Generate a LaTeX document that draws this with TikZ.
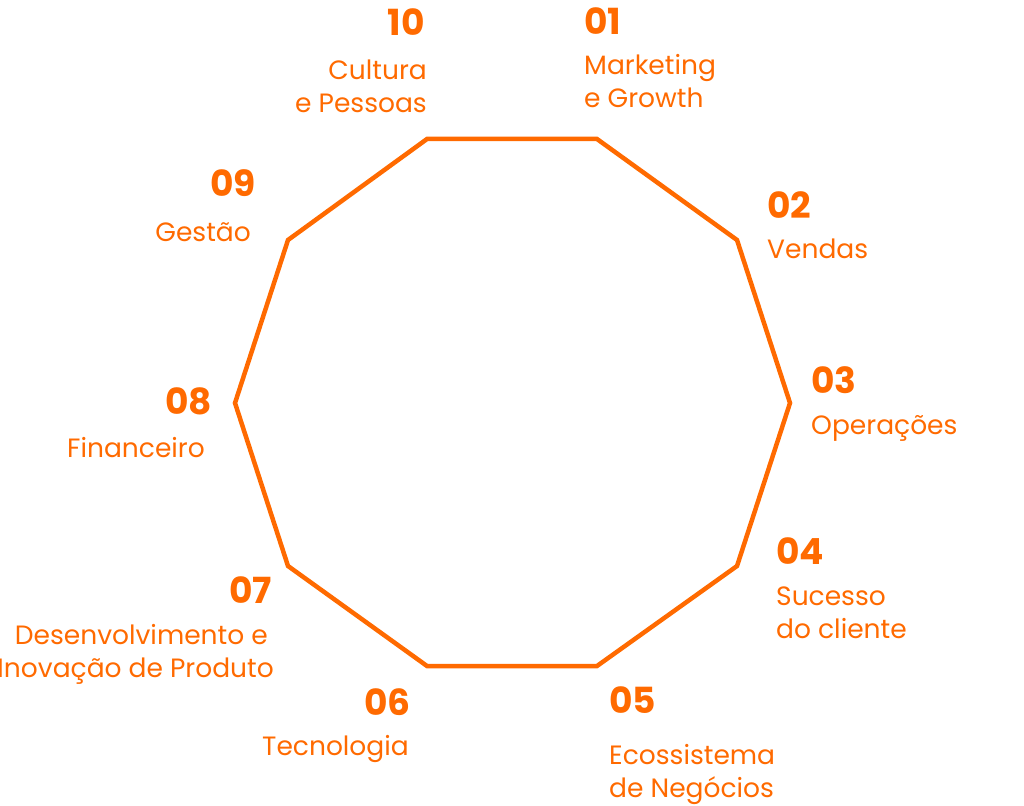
\documentclass[tikz,border=0pt]{standalone}
\usepackage{fontspec}
\setmainfont{Poppins}
\usetikzlibrary{positioning}
\definecolor{orng}{RGB}{255,106,0}

\begin{document}
\begin{tikzpicture}[x=1pt, y=-1pt,
  num/.style={font=\fontsize{36}{36}\selectfont\bfseries, text=orng, inner sep=0pt},
  area/.style={font=\fontsize{26.5}{33}\selectfont, text=orng, inner sep=0pt},
  ring/.style={draw=orng, line width=4.5pt, line join=miter}]
  \useasboundingbox (0,0) rectangle (1024,805);

  % corners of the ring
  \coordinate (c1)  at (427,139);
  \coordinate (c2)  at (597,139);
  \coordinate (c3)  at (737,240);
  \coordinate (c4)  at (790,403);
  \coordinate (c5)  at (737,566);
  \coordinate (c6)  at (597,666);
  \coordinate (c7)  at (427,666);
  \coordinate (c8)  at (288,566);
  \coordinate (c9)  at (235,403);
  \coordinate (c10) at (288,240);
  \draw[ring] (c1) -- (c2) -- (c3) -- (c4) -- (c5) -- (c6) -- (c7) -- (c8) -- (c9) -- (c10) -- cycle;

  % right side (two-line labels sit on their last line)
  \node[num, anchor=base west] (n01) at (584,35)  {01};
  \node[area, align=left, below=73pt of n01.base west, anchor=base west] (a01) {Marketing\\e Growth};
  \node[num, anchor=base west] (n02) at (767,218) {02};
  \node[area, align=left, below=40pt of n02.base west, anchor=base west] (a02) {Vendas};
  \node[num, anchor=base west] (n03) at (811,393) {03};
  \node[area, align=left, below=41pt of n03.base west, anchor=base west] (a03) {Operações};
  \node[num, anchor=base west] (n04) at (776,564) {04};
  \node[area, align=left, below=74pt of n04.base west, anchor=base west] (a04) {Sucesso\\do cliente};
  \node[num, anchor=base west] (n05) at (609,713) {05};
  \node[area, align=left, below=84pt of n05.base west, anchor=base west] (a05) {Ecossistema\\de Negócios};

  % left side
  \node[num, anchor=base east] (n06) at (411,715) {06};
  \node[area, align=right, below left=40pt and 2pt of n06.base east, anchor=base east] (a06) {Tecnologia};
  \node[num, anchor=base east] (n07) at (272,603) {07};
  \node[area, align=right, below right=74pt and 2pt of n07.base east, anchor=base east] (a07) {Desenvolvimento e\hspace*{6pt}\\Inovação de Produto};
  \node[num, anchor=base east] (n08) at (212,414) {08};
  \node[area, align=right, below left=43pt and 7pt of n08.base east, anchor=base east] (a08) {Financeiro};
  \node[num, anchor=base east] (n09) at (256,196) {09};
  \node[area, align=right, below left=45pt and 5pt of n09.base east, anchor=base east] (a09) {Gestão};
  \node[num, anchor=base east] (n10) at (425,36)  {10};
  \node[area, align=right, below right=77pt and 2pt of n10.base east, anchor=base east] (a10) {Cultura\\e Pessoas};
\end{tikzpicture}
\end{document}
